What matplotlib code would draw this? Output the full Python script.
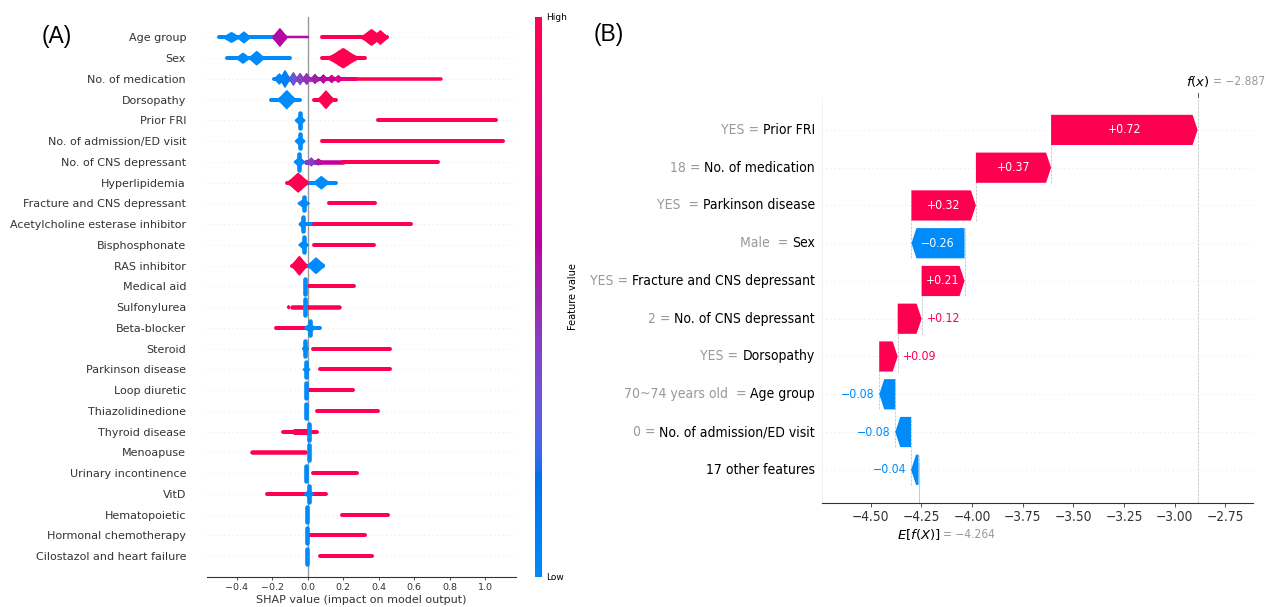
import matplotlib
matplotlib.use("Agg")
import matplotlib.pyplot as plt
import numpy as np
from matplotlib import transforms
from matplotlib.cm import ScalarMappable
from matplotlib.colors import ListedColormap
from matplotlib.patches import Ellipse, FancyArrow

# ---------------------------------------------------------------- panel A data
features_a = [
    "Age group", "Sex", "No. of medication", "Dorsopathy", "Prior FRI",
    "No. of admission/ED visit", "No. of CNS depressant", "Hyperlipidemia",
    "Fracture and CNS depressant", "Acetylcholine esterase inhibitor",
    "Bisphosphonate", "RAS inhibitor", "Medical aid", "Sulfonylurea",
    "Beta-blocker", "Steroid", "Parkinson disease", "Loop diuretic",
    "Thiazolidinedione", "Thyroid disease", "Menoapuse", "Urinary incontinence",
    "VitD", "Hematopoietic", "Hormonal chemotherapy",
    "Cilostazol and heart failure",
]

# spread of SHAP values read off the beeswarm:
# (row, shap_from, shap_to, feature value 0=low..1=high, thickness px)
segments = [
    (0, -0.50, -0.17, 0.0, 4), (0, -0.17, 0.0, 0.58, 2.5), (0, 0.08, 0.45, 1.0, 4),
    (1, -0.457, -0.10, 0.0, 4), (1, 0.079, 0.323, 1.0, 4),
    (2, -0.19, -0.10, 0.05, 4), (2, -0.10, 0.05, 0.38, 5), (2, 0.05, 0.16, 0.58, 4),
    (2, 0.16, 0.27, 0.8, 4), (2, 0.27, 0.75, 1.0, 3.5),
    (3, -0.21, -0.043, 0.0, 4), (3, 0.036, 0.16, 1.0, 4),
    (4, 0.394, 1.064, 1.0, 4),
    (5, 0.083, 1.10, 1.0, 4),
    (6, -0.01, 0.07, 0.45, 5), (6, 0.07, 0.20, 0.65, 4.5), (6, 0.20, 0.736, 1.0, 4),
    (7, -0.118, 0.0, 1.0, 4), (7, 0.0, 0.158, 0.0, 4),
    (8, 0.118, 0.38, 1.0, 4),
    (9, -0.027, 0.033, 0.0, 4), (9, 0.033, 0.58, 1.0, 4),
    (10, 0.033, 0.373, 1.0, 4),
    (11, -0.09, 0.0, 1.0, 4), (11, 0.0, 0.087, 0.0, 4),
    (12, 0.007, 0.259, 1.0, 4),
    (13, -0.088, 0.174, 1.0, 4.5),
    (14, -0.178, 0.0, 1.0, 4), (14, 0.0, 0.067, 0.0, 4),
    (15, 0.027, 0.464, 1.0, 4),
    (16, 0.067, 0.466, 1.0, 4),
    (17, 0.0, 0.253, 1.0, 4),
    (18, 0.051, 0.396, 1.0, 4),
    (19, -0.14, 0.051, 1.0, 4), (19, -0.07, 0.0, 1.0, 6),
    (20, -0.315, -0.013, 1.0, 4.5),
    (21, 0.031, 0.279, 1.0, 4),
    (22, -0.229, 0.102, 1.0, 4),
    (23, 0.194, 0.454, 1.0, 4),
    (24, 0.007, 0.323, 1.0, 4),
    (25, 0.069, 0.361, 1.0, 4),
]

# dense clusters of points: (row, shap centre, width, height in rows, feature value)
blobs = [
    (0, -0.43, 0.10, 0.52, 0.0), (0, -0.36, 0.08, 0.58, 0.0), (0, -0.157, 0.085, 0.90, 0.58),
    (0, 0.36, 0.12, 0.80, 1.0), (0, 0.41, 0.09, 0.70, 1.0),
    (1, -0.365, 0.08, 0.54, 0.0), (1, -0.288, 0.09, 0.70, 0.0), (1, 0.20, 0.17, 0.97, 1.0),
    (2, -0.16, 0.06, 0.55, 0.02), (2, -0.128, 0.06, 0.87, 0.08), (2, -0.081, 0.05, 0.68, 0.32),
    (2, -0.043, 0.05, 0.60, 0.40), (2, -0.006, 0.05, 0.58, 0.47), (2, 0.041, 0.05, 0.50, 0.53),
    (2, 0.088, 0.05, 0.45, 0.58), (2, 0.135, 0.05, 0.40, 0.66), (2, 0.173, 0.05, 0.38, 0.72),
    (3, -0.118, 0.10, 0.92, 0.0), (3, 0.103, 0.09, 0.90, 1.0),
    (4, -0.043, 0.06, 0.50, 0.0),
    (5, -0.043, 0.06, 0.50, 0.0),
    (6, -0.047, 0.065, 0.50, 0.0), (6, 0.02, 0.05, 0.45, 0.42), (6, 0.06, 0.05, 0.35, 0.55),
    (7, -0.054, 0.12, 0.95, 1.0), (7, 0.077, 0.09, 0.65, 0.0),
    (8, -0.023, 0.07, 0.45, 0.0),
    (9, -0.027, 0.05, 0.45, 0.0),
    (10, -0.023, 0.06, 0.45, 0.0),
    (11, -0.047, 0.09, 0.95, 1.0), (11, 0.047, 0.10, 0.80, 0.0),
    (13, -0.108, 0.02, 0.22, 1.0),
    (14, 0.013, 0.07, 0.45, 0.0),
    (15, -0.013, 0.04, 0.40, 0.0),
    (16, -0.007, 0.045, 0.30, 0.0),
    (22, 0.007, 0.06, 0.40, 0.0),
]

# piles of identical values drawn as vertical bars: (row, shap value, height in rows, feature value)
stacks = [
    (4, -0.043, 0.95, 0.0), (5, -0.043, 0.90, 0.0), (6, -0.047, 0.95, 0.0),
    (8, -0.023, 0.87, 0.0), (9, -0.027, 0.90, 0.0), (10, -0.023, 0.92, 0.0),
    (12, -0.013, 0.92, 0.0), (13, -0.013, 0.95, 0.0), (14, 0.013, 0.92, 0.0),
    (15, -0.013, 0.90, 0.0), (16, -0.007, 0.90, 0.0), (17, -0.01, 0.92, 0.0),
    (18, -0.007, 0.90, 0.0), (19, 0.007, 0.95, 0.0), (20, 0.007, 0.90, 0.0),
    (21, -0.007, 0.90, 0.0), (22, 0.007, 0.95, 0.0), (23, -0.004, 0.90, 0.0),
    (24, -0.004, 0.90, 0.0), (25, -0.004, 0.90, 0.0),
]
xticks_a = [-0.4, -0.2, 0.0, 0.2, 0.4, 0.6, 0.8, 1.0]

# ---------------------------------------------------------------- panel B data
wf_features = [
    "Prior FRI", "No. of medication", "Parkinson disease", "Sex",
    "Fracture and CNS depressant", "No. of CNS depressant", "Dorsopathy",
    "Age group", "No. of admission/ED visit", "17 other features",
]
wf_data = ["YES", "18", "YES ", "Male ", "YES", "2", "YES", "70~74 years old ", "0", ""]
wf_shap = [0.723, 0.371, 0.318, -0.262, 0.212, 0.118, 0.091, -0.079, -0.078, -0.037]
base_value = -4.264
xticks_b = [-4.50, -4.25, -4.00, -3.75, -3.50, -3.25, -3.00, -2.75]

# ---------------------------------------------------------------- style
RED = "#ff0051"
BLUE = "#008bfb"
AXIS = "#333333"
W, H = 1266, 607
BFONT = dict(family="DejaVu Sans", stretch="condensed")


def lch_cmap(n=256):
    # shap's red_blue map: blue -> red in LCH, lightness dipping to 40 midway
    t = np.linspace(0, 1, n)
    l = np.where(t < 0.5, 54 - 28 * t, 40 + 28 * (t - 0.5))
    c = 70.0 + 20.0 * t
    h = 4.6588 + (0.35470565 + 2 * np.pi - 4.6588) * t
    a, b = c * np.cos(h), c * np.sin(h)
    fy = (l + 16) / 116
    fx, fz = fy + a / 500, fy - b / 200

    def finv(v):
        return np.where(v > 6 / 29, v ** 3, 3 * (6 / 29) ** 2 * (v - 4 / 29))

    x, y, z = 0.95047 * finv(fx), finv(fy), 1.08883 * finv(fz)
    rgb = np.stack([
        3.2406 * x - 1.5372 * y - 0.4986 * z,
        -0.9689 * x + 1.8758 * y + 0.0415 * z,
        0.0557 * x - 0.2040 * y + 1.0570 * z,
    ], axis=-1)
    rgb = np.clip(rgb, 0, 1)
    rgb = np.where(rgb <= 0.0031308, 12.92 * rgb, 1.055 * rgb ** (1 / 2.4) - 0.055)
    return ListedColormap(np.clip(rgb, 0, 1))


cmap = lch_cmap()


def px_box(x0, y0, x1, y1):
    return [x0 / W, 1 - y1 / H, (x1 - x0) / W, (y1 - y0) / H]


def minus(v, fmt):
    return (fmt % v).replace("-", "\u2212")


fig = plt.figure(figsize=(W / 100, H / 100), dpi=100)

# ================================================================ panel A
ax = fig.add_axes(px_box(206.7, 16.7, 516, 577))
n_a = len(features_a)
for i in range(n_a):
    ax.axhline(i, color="#cccccc", lw=0.5, dashes=(1, 5), zorder=-1)
ax.axvline(0, color="#999999", lw=1.0, zorder=-1)

for row, x0, x1, c, t in segments:
    ax.plot([x0, x1], [row, row], color=cmap(c), lw=t * 0.72,
            solid_capstyle="round", zorder=2)
for row, x, h, c in stacks:
    ax.plot([x, x], [row - h / 2 + 0.1, row + h / 2 - 0.1], color=cmap(c), lw=3.3,
            solid_capstyle="round", zorder=3)
for row, x, w, h, c in blobs:
    # a cluster tapers off at both ends, so layer a few ellipses
    for fw, fh in ((0.35, 1.0), (0.6, 0.88), (0.8, 0.7), (1.0, 0.5)):
        ax.add_patch(Ellipse((x, row), w * fw, h * fh, facecolor=cmap(c), lw=0, zorder=3))

ax.set_xlim(-0.570, 1.175)
ax.set_ylim(n_a, -1)
ax.set_yticks(range(n_a), features_a, fontsize=8, color=AXIS)
ax.tick_params(axis="y", length=0, pad=14.9)
ax.set_xticks(xticks_a, [minus(t, "%.1f") for t in xticks_a])
ax.tick_params(axis="x", labelsize=6.8, colors=AXIS, length=2.5, width=0.6, pad=2)
for side in ("top", "right", "left"):
    ax.spines[side].set_visible(False)
ax.spines["bottom"].set_color(AXIS)
ax.set_xlabel("SHAP value (impact on model output)", fontsize=8, color=AXIS, labelpad=2)

cax = fig.add_axes(px_box(535, 16.7, 541.5, 577))
cb = fig.colorbar(ScalarMappable(cmap=cmap), cax=cax, ticks=[0, 1])
cb.set_ticklabels(["Low", "High"])
cb.outline.set_visible(False)
cb.ax.tick_params(length=0, labelsize=6.5, pad=3)
cb.set_label("Feature value", size=7, labelpad=1)

fig.text(57 / W, 1 - 36 / H, "(A)", fontsize=16.5, family="Liberation Sans",
         ha="center", va="center")
fig.text(609 / W, 1 - 34 / H, "(B)", fontsize=16.5, family="Liberation Sans",
         ha="center", va="center")

# ================================================================ panel B
bx = fig.add_axes(px_box(821.7, 96.7, 1252.7, 503))
n_b = len(wf_features)
ypos = np.arange(n_b)[::-1]
fx_value = base_value + sum(wf_shap)
bx.set_xlim(-4.742, -2.615)
bx.set_ylim(-0.88, n_b - 1 + 0.88)

for y in ypos:
    bx.axhline(y, color="#cccccc", lw=0.5, dashes=(1, 5), zorder=-1)

# data units per pixel, for arrow heads and text offsets
x_per_px = (bx.get_xlim()[1] - bx.get_xlim()[0]) / (1252.7 - 821.7)
head = 5 * x_per_px
fig.canvas.draw()
renderer = fig.canvas.get_renderer()

for i in range(n_b):
    v = wf_shap[i]
    start = base_value + sum(wf_shap[i + 1:])
    y = ypos[i]
    col = RED if v >= 0 else BLUE
    bx.add_patch(FancyArrow(start, y, v, 0, width=0.8, head_width=0.8,
                            head_length=min(abs(v), head), length_includes_head=True,
                            facecolor=col, lw=0, zorder=2))
    bx.plot([start, start], [y - 1 - 0.4, y + 0.4], color="#bbbbbb",
            ls="--", lw=0.5, zorder=-1)
    label = minus(v, "%+0.2f")
    txt = bx.text(start + v / 2, y, label, ha="center", va="center",
                  color="white", fontsize=8.8, **BFONT)
    tw = txt.get_window_extent(renderer).width
    if tw + 6 > abs(v) / x_per_px:
        txt.remove()
        if v >= 0:
            bx.text(start + v + 5 * x_per_px, y, label, ha="left", va="center",
                    color=RED, fontsize=8.8, **BFONT)
        else:
            bx.text(start + v - 5 * x_per_px, y, label, ha="right", va="center",
                    color=BLUE, fontsize=8.8, **BFONT)

bx.axvline(base_value, 0, 1 / n_b, color="#bbbbbb", ls="--", lw=0.5, zorder=-1)
bx.axvline(fx_value, 0, 1, color="#bbbbbb", ls="--", lw=0.5, zorder=-1)

# y labels: black feature name, gray "value =" just to its left
lab_pad = 5 / 72 * fig.dpi
for i in range(n_b):
    name = bx.annotate(wf_features[i], (0, ypos[i]), xycoords=bx.get_yaxis_transform(),
                       xytext=(-lab_pad, 0), textcoords="offset pixels",
                       ha="right", va="center", color="black", fontsize=10, **BFONT)
    if wf_data[i]:
        nw = name.get_window_extent(renderer).width
        bx.annotate(f"{wf_data[i]} =", (0, ypos[i]), xycoords=bx.get_yaxis_transform(),
                    xytext=(-lab_pad - nw - 4, 0), textcoords="offset pixels",
                    ha="right", va="center", color="#999999", fontsize=10, **BFONT)
bx.set_yticks([])

bx.set_xticks(xticks_b, [minus(t, "%.2f") for t in xticks_b], fontsize=9.8, **BFONT)
bx.tick_params(axis="x", length=3, width=0.6, colors=AXIS, pad=2)
for side in ("top", "right"):
    bx.spines[side].set_visible(False)
bx.spines["left"].set_color("#eeeeee")
bx.spines["left"].set_linewidth(0.5)
bx.spines["bottom"].set_color(AXIS)

# E[f(X)] below the axis and f(x) above it
edge_tr = transforms.blended_transform_factory(bx.transData, bx.transAxes)
bx.annotate("$E[f(X)]$", (base_value, 0), xycoords=edge_tr, xytext=(0, -31),
            textcoords="offset pixels", ha="center", va="center", fontsize=9.5)
bx.annotate("= " + minus(base_value, "%.3f"), (base_value, 0), xycoords=edge_tr,
            xytext=(24, -31), textcoords="offset pixels", ha="left", va="center",
            color="#999999", fontsize=8.6, **BFONT)
bx.annotate("$f(x)$", (fx_value, 1), xycoords=edge_tr, xytext=(0, 15),
            textcoords="offset pixels", ha="center", va="center", fontsize=9.5)
bx.annotate("= " + minus(fx_value, "%.3f"), (fx_value, 1), xycoords=edge_tr,
            xytext=(15, 15), textcoords="offset pixels", ha="left", va="center",
            color="#999999", fontsize=8.6, **BFONT)
bx.plot([fx_value, fx_value], [1.01, 1.0], transform=edge_tr, color=AXIS,
        lw=0.6, clip_on=False)

fig.savefig("out.png", dpi=100)
